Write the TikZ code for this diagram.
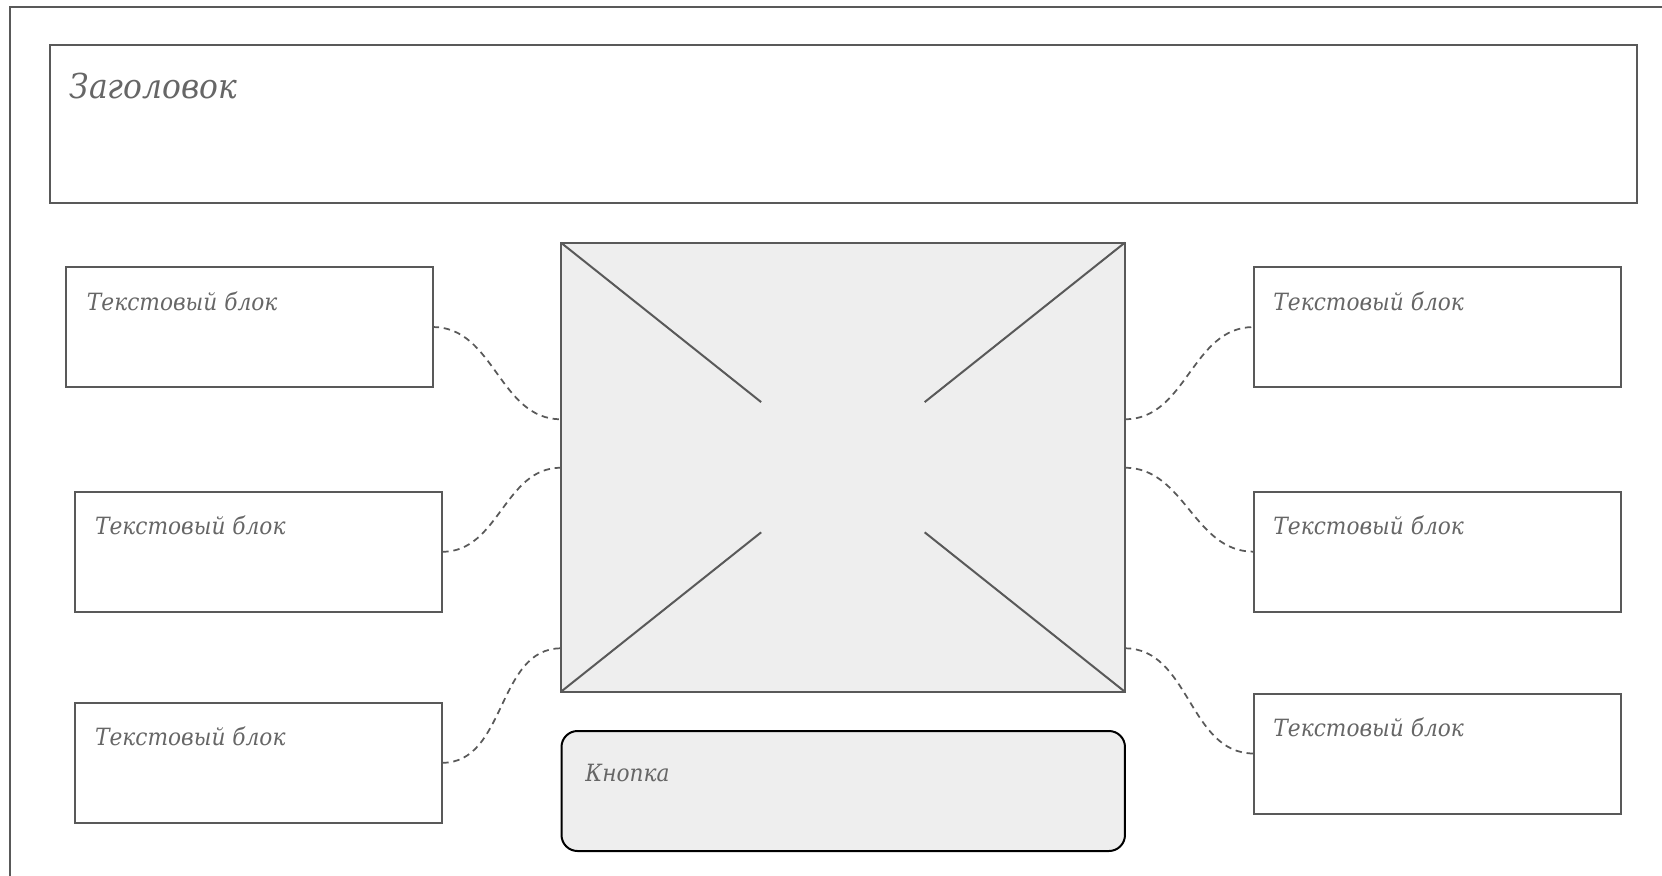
\documentclass[tikz,border=0pt]{standalone}
\usepackage{fontspec}
\newfontfamily\lblfont{DejaVu Serif}[FakeStretch=0.915]
\usetikzlibrary{calc}
\definecolor{linegray}{HTML}{595959}
\definecolor{textgray}{HTML}{666666}
\definecolor{fillgray}{HTML}{EEEEEE}
\tikzset{
  frame/.style={draw=linegray, line width=1.4pt},
  boxnode/.style={draw=linegray, line width=1.5pt, fill=white, inner sep=0pt, outer sep=0pt, anchor=north west, minimum width=275.2pt, minimum height=90pt},
  headnode/.style={draw=linegray, line width=1.5pt, inner sep=0pt, outer sep=0pt, anchor=north west, minimum width=1190.1pt, minimum height=118pt},
  imgnode/.style={draw=linegray, line width=1.5pt, fill=fillgray, inner sep=0pt, outer sep=0pt, anchor=north west, minimum width=422.85pt, minimum height=336.75pt},
  btnnode/.style={draw=black, line width=1.5pt, fill=fillgray, rounded corners=12pt, inner sep=0pt, outer sep=0pt, anchor=north west, minimum width=422.6pt, minimum height=90pt},
  lbl/.style={anchor=base west, inner sep=0pt, text=textgray, font=\lblfont\itshape\fontsize{17.8pt}{20pt}\selectfont},
  biglbl/.style={anchor=base west, inner sep=0pt, text=textgray, font=\lblfont\itshape\fontsize{25.7pt}{28pt}\selectfont},
  cross/.style={draw=linegray, line width=1.5pt},
  link/.style={draw=linegray, line width=1.3pt, dash pattern=on 4.8pt off 3.6pt, out=0, in=180}
}
\begin{document}
\begin{tikzpicture}[x=0.75pt,y=-0.75pt]
\useasboundingbox (0,0) rectangle (1662,875);
\clip (0,0) rectangle (1662,875);
\fill[white] (0,0) rectangle (1662,875);
% outer frame
\draw[frame] (9.6,7.3) rectangle (1700,920);
% header
\node[headnode] (head) at (49.8,45.3) {};
\node[biglbl] (headtxt) at ($(head.north west)+(19.5,53)$) {Заголовок};
% image placeholder
\node[imgnode] (img) at (561,242.7) {};
\draw[cross] (img.north west) -- ($(img.north west)!0.355!(img.south east)$);
\draw[cross] (img.north east) -- ($(img.north east)!0.355!(img.south west)$);
\draw[cross] (img.south west) -- ($(img.south west)!0.355!(img.north east)$);
\draw[cross] (img.south east) -- ($(img.south east)!0.355!(img.north west)$);
\draw[linegray, line width=1.5pt] (img.north west) rectangle (img.south east);
% button
\node[btnnode] (btn) at (561.5,731) {};
\node[lbl] (btntxt) at ($(btn.north west)+(23.7,50)$) {Кнопка};
% left boxes
\node[boxnode] (l1) at (65.7,267) {};
\node[lbl] (l1t) at ($(l1.north west)+(21,43)$) {Текстовый блок};
\node[boxnode] (l2) at (75.3,491.8) {};
\node[lbl] (l2t) at ($(l2.north west)+(19.5,43)$) {Текстовый блок};
\node[boxnode] (l3) at (75.3,702.8) {};
\node[lbl] (l3t) at ($(l3.north west)+(19.5,43)$) {Текстовый блок};
% right boxes
\node[boxnode] (r1) at (1253.7,267) {};
\node[lbl] (r1t) at ($(r1.north west)+(19.5,43)$) {Текстовый блок};
\node[boxnode] (r2) at (1253.7,491.7) {};
\node[lbl] (r2t) at ($(r2.north west)+(19.5,43)$) {Текстовый блок};
\node[boxnode] (r3) at (1253.7,693.5) {};
\node[lbl] (r3t) at ($(r3.north west)+(19.5,43)$) {Текстовый блок};
% attach points on image
\coordinate (ia) at ($(img.north west)+(0,176.6)$);
\coordinate (ib) at ($(img.north west)+(0,225)$);
\coordinate (ic) at ($(img.north west)+(0,405.6)$);
\coordinate (ja) at ($(img.north east)+(0,176.6)$);
\coordinate (jb) at ($(img.north east)+(0,225)$);
\coordinate (jc) at ($(img.north east)+(0,405.6)$);
% connectors
\draw[link] (l1.east) to (ia);
\draw[link] (l2.east) to (ib);
\draw[link] (l3.east) to (ic);
\draw[link] (ja) to (r1.west);
\draw[link] (jb) to (r2.west);
\draw[link] (jc) to (r3.west);
\end{tikzpicture}
\end{document}
